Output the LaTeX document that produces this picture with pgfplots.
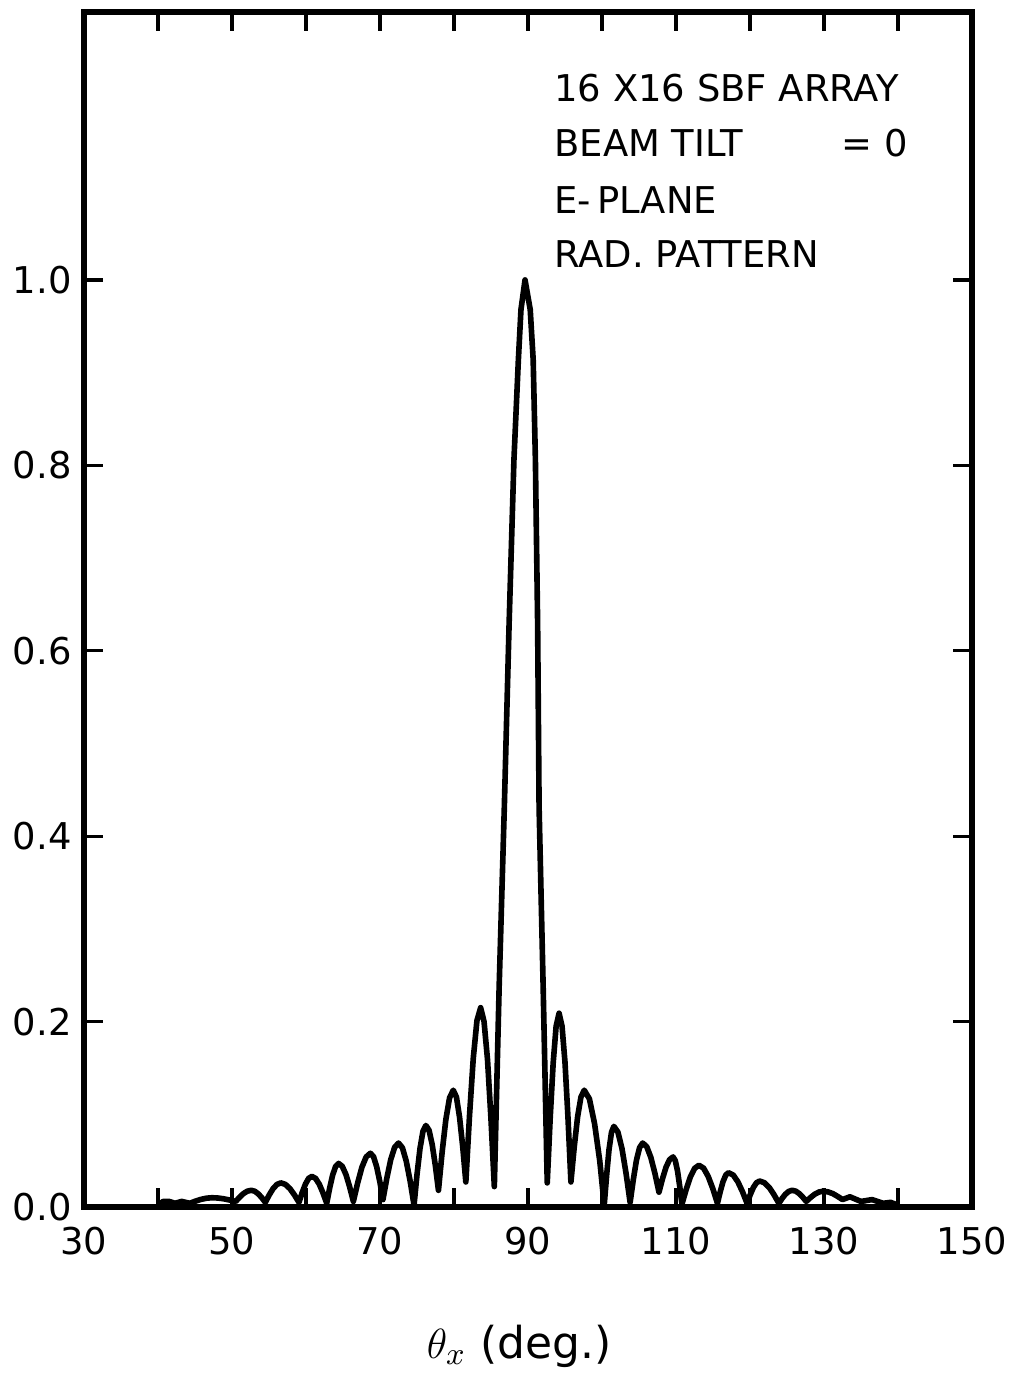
\documentclass[border=0pt]{standalone}
\usepackage{pgfplots}
\pgfplotsset{compat=1.18}
\usepackage{fontspec}
\setmainfont{DejaVu Sans}
\begin{document}
\begin{tikzpicture}
\begin{axis}[
  name=ax,
  scale only axis,
  width=88.8mm, height=119.5mm,
  xmin=30, xmax=150, ymin=0, ymax=1.289,
  clip=false,
  axis line style={line width=1.8pt},
  xtick={30,40,...,150},
  xticklabels={30,,50,,70,,90,,110,,130,,150},
  ytick={0,0.2,0.4,0.6,0.8,1.0},
  yticklabels={0.0,0.2,0.4,0.6,0.8,1.0},
  major tick length=1.9mm,
  tick style={line width=0.9pt, black},
  tick label style={font=\fontsize{10.5}{12}\selectfont},
  xticklabel style={yshift=-0.8mm},
  xlabel={$\theta_{x}$\ (deg.)},
  xlabel style={at={(axis description cs:0.49,0)}, anchor=base, yshift=-15.1mm, font=\fontsize{12.5}{14}\selectfont},
]
\addplot[black, line width=1.6pt, line join=round] coordinates {
(40,0.002) (40.7,0.006) (41.5,0.006) (42.3,0.004) (43.2,0.006) (44.3,0.004)
(45.05,0.0063) (45.8,0.0082) (46.55,0.0095) (47.3,0.010) (48.1,0.0097) (48.9,0.0088) (49.7,0.0075)
(50.5,0.006) (51.03,0.0106) (51.55,0.0145) (52.08,0.0171) (52.6,0.018) (53.08,0.0170) (53.55,0.0142) (54.03,0.0100)
(54.5,0.005) (55.03,0.0130) (55.55,0.0198) (56.08,0.0244) (56.6,0.026) (57.21,0.0244) (57.83,0.0198) (58.44,0.0130)
(59.05,0.005) (59.49,0.0157) (59.93,0.0248) (60.36,0.0309) (60.8,0.033) (61.3,0.0308) (61.8,0.0245) (62.3,0.0151)
(62.8,0.004) (63.2,0.0205) (63.6,0.0344) (64.0,0.0437) (64.4,0.047) (64.9,0.0439) (65.4,0.0350) (65.9,0.0217)
(66.4,0.006) (66.98,0.0259) (67.55,0.0428) (68.13,0.0540) (68.7,0.058) (69.13,0.0542) (69.55,0.0434) (69.98,0.0272)
(70.4,0.008) (70.93,0.0314) (71.45,0.0511) (71.98,0.0644) (72.5,0.069) (73.03,0.0639) (73.55,0.0494) (74.08,0.0277)
(74.6,0.002) (75.0,0.0349) (75.4,0.0628) (75.8,0.0815) (76.2,0.088) (76.63,0.0827) (77.05,0.0675) (77.48,0.0448)
(77.9,0.018) (78.4,0.0594) (78.9,0.0944) (79.4,0.1178) (79.9,0.126) (80.33,0.1185) (80.75,0.0970) (81.18,0.0649)
(81.6,0.027) (82.1,0.099) (82.6,0.160) (83.1,0.201) (83.6,0.215) (84.06,0.200) (84.53,0.159) (84.99,0.096)
(85.45,0.022) (86.1,0.237) (86.8,0.431) (87.45,0.630) (88.1,0.806) (88.7,0.914) (89.05,0.968) (89.6,1.000)
(90.3,0.968) (90.7,0.914) (91.0,0.806) (91.3,0.630) (91.5,0.431) (92.05,0.237)
(92.6,0.026) (93.0,0.096) (93.4,0.155) (93.8,0.195) (94.2,0.209) (94.6,0.195) (95.0,0.156) (95.4,0.097)
(95.8,0.027) (96.25,0.0649) (96.7,0.097) (97.15,0.1185) (97.6,0.126) (98.3,0.1166) (99.0,0.0897) (99.7,0.0495)
(100.3,0.002) (100.63,0.0346) (100.95,0.0621) (101.28,0.0805) (101.6,0.087) (102.15,0.0808) (102.7,0.063) (103.25,0.0364)
(103.8,0.005) (104.23,0.0295) (104.65,0.0502) (105.08,0.0641) (105.5,0.069) (106.05,0.065) (106.6,0.0535) (107.15,0.0363)
(107.7,0.016) (108.18,0.0306) (108.65,0.0429) (109.13,0.0511) (109.6,0.054) (109.9,0.0501) (110.2,0.0391) (110.5,0.0225)
(110.8,0.003) (111.38,0.0191) (111.95,0.0327) (112.53,0.0418) (113.1,0.045) (113.73,0.0419) (114.35,0.0330) (114.98,0.0197)
(115.6,0.004) (115.98,0.0166) (116.35,0.0273) (116.73,0.0345) (117.1,0.037) (117.73,0.0345) (118.35,0.0273) (118.98,0.0166)
(119.6,0.004) (120.03,0.0132) (120.45,0.0210) (120.88,0.0262) (121.3,0.028) (121.95,0.0262) (122.6,0.0210) (123.25,0.0132)
(123.9,0.004) (124.35,0.0094) (124.8,0.0139) (125.25,0.0169) (125.7,0.018) (126.18,0.0171) (126.65,0.0145) (127.13,0.0106)
(127.6,0.006) (128.18,0.0102) (128.75,0.0138) (129.33,0.0162) (129.9,0.017) (130.55,0.0163) (131.2,0.0144) (131.85,0.0114)
(132.5,0.008) (133.5,0.011) (135,0.006) (136.5,0.008) (138,0.004) (139,0.005) (140,0.002)
};
\node[anchor=base west, font=\fontsize{10.5}{12}\selectfont] at (axis cs:91.9,1.192) {16 X16 SBF ARRAY};
\node[anchor=base west, font=\fontsize{10.5}{12}\selectfont] at (axis cs:91.9,1.133) {BEAM TILT};
\node[anchor=base west, font=\fontsize{10.5}{12}\selectfont] at (axis cs:130.7,1.133) {= 0};
\node[anchor=base west, font=\fontsize{10.5}{12}\selectfont] at (axis cs:91.9,1.072) {E-\,PLANE};
\node[anchor=base west, font=\fontsize{10.5}{12}\selectfont] at (axis cs:91.9,1.013) {RAD. PATTERN};
\end{axis}
\pgfresetboundingbox
\path[use as bounding box] ([shift={(-8.4mm,-17.3mm)}]ax.south west) rectangle ([shift={(4.2mm,1.2mm)}]ax.north east);
\end{tikzpicture}
\end{document}
